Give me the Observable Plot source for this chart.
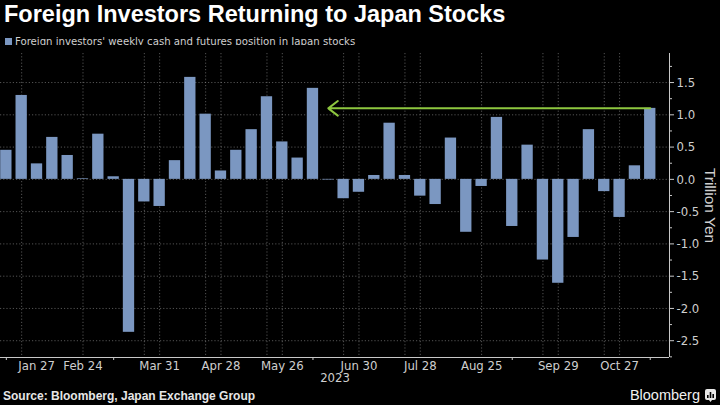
<!DOCTYPE html>
<html>
<head>
<meta charset="utf-8">
<script src="https://cdn.jsdelivr.net/npm/d3@7"></script>
<script src="https://cdn.jsdelivr.net/npm/@observablehq/plot@0.6"></script>
<style>
  html, body { margin: 0; padding: 0; background: #000; }
  body { width: 720px; height: 405px; overflow: hidden; position: relative;
         font-family: "Liberation Sans Narrow", "DejaVu Sans Condensed", "Liberation Sans", sans-serif; }
  #title { position: absolute; left: 4px; top: 0px; color: #fff; font-family: "Liberation Sans", sans-serif;
           font-weight: bold; font-size: 23.5px; line-height: 28px; white-space: nowrap; }
  #legend { position: absolute; left: 5px; top: 34px; color: #cfcfcf; font-size: 11.3px; line-height: 16px; white-space: nowrap; }
  #legend .sw { display: inline-block; width: 7px; height: 7px; background: #7b97c1; margin-right: 3px; vertical-align: 0px; }
  #chart { position: absolute; left: 0; top: 45px; }
  #source { position: absolute; left: 3px; top: 388px; color: #e6e6e6; font-family: "Liberation Sans", sans-serif;
            font-weight: bold; font-size: 12px; line-height: 16px; white-space: nowrap; }
  #brand { position: absolute; right: 4px; top: 386px; color: #f0f0f0; font-family: "Liberation Sans", sans-serif;
           font-size: 14.5px; line-height: 18px; white-space: nowrap; display: flex; align-items: center; gap: 5px; }
</style>
</head>
<body>
<div id="title">Foreign Investors Returning to Japan Stocks</div>
<div id="legend"><span class="sw"></span>Foreign investors' weekly cash and futures position in Japan stocks</div>
<div id="chart"></div>
<div id="source">Source: Bloomberg, Japan Exchange Group</div>
<div id="brand"><span>Bloomberg</span><svg width="11" height="13" viewBox="0 0 11 13"><rect x="0" y="0" width="11" height="11" rx="2" fill="#e8e8e8"/><path d="M4 11 L5.5 13 L7 11 Z" fill="#e8e8e8"/><rect x="2" y="6" width="1.6" height="3" fill="#000"/><rect x="4.7" y="3" width="1.6" height="6" fill="#000"/><rect x="7.4" y="5" width="1.6" height="4" fill="#000"/></svg></div>
<script>
// ---- data ----
const weeks = [
  "2023-01-20","2023-01-27","2023-02-03","2023-02-10","2023-02-17","2023-02-24","2023-03-03","2023-03-10",
  "2023-03-17","2023-03-24","2023-03-31","2023-04-07","2023-04-14","2023-04-21","2023-04-28","2023-05-05",
  "2023-05-12","2023-05-19","2023-05-26","2023-06-02","2023-06-09","2023-06-16","2023-06-23","2023-06-30",
  "2023-07-07","2023-07-14","2023-07-21","2023-07-28","2023-08-04","2023-08-11","2023-08-18","2023-08-25",
  "2023-09-01","2023-09-08","2023-09-15","2023-09-22","2023-09-29","2023-10-06","2023-10-13","2023-10-20",
  "2023-10-27","2023-11-03","2023-11-10"
];
const positions = [
  0.45, 1.30, 0.24, 0.65, 0.37, 0.01, 0.70, 0.04,
  -2.37, -0.35, -0.42, 0.29, 1.58, 1.01, 0.13, 0.45,
  0.77, 1.28, 0.58, 0.33, 1.41, -0.01, -0.30, -0.20,
  0.06, 0.87, 0.06, -0.26, -0.39, 0.64, -0.82, -0.11,
  0.96, -0.73, 0.53, -1.25, -1.61, -0.90, 0.77, -0.19,
  -0.59, 0.21, 1.10
];
const labelDates = ["2023-01-27","2023-02-24","2023-03-31","2023-04-28","2023-05-26","2023-06-30",
                    "2023-07-28","2023-08-25","2023-09-29","2023-10-27"];
const extraGridDates = ["2023-03-24","2023-04-21","2023-05-19","2023-06-23","2023-07-21","2023-09-22","2023-10-20"];
const smallTickDates = ["2023-01-20","2023-03-10","2023-06-09","2023-09-08","2023-11-10"];
const yTicks = [1.5, 1.0, 0.5, 0.0, -0.5, -1.0, -1.5, -2.0, -2.5];
const yMinorTicks = [1.75, 1.25, 0.75, 0.25, -0.25, -0.75, -1.25, -1.75, -2.25, -2.75];
const yearLabel = ["2023"];
const unitLabel = ["Trillion Yen"];
const arrowFrom = "2023-11-10";
const arrowTo = "2023-06-16";
const arrowLevel = 1.10;
const xDomain = ["2023-01-17T08:00:00Z", "2023-11-18T19:00:00Z"];
const yDomain = [-2.76, 1.95];

// ---- build ----
const P = d => new Date(d.length > 10 ? d : d + "T00:00:00Z");
const data = weeks.map((w, i) => ({date: P(w), value: positions[i]}));
const arrows = [{from: P(arrowFrom), to: P(arrowTo), y: arrowLevel}];
const halfBar = 62; // hours

const grid = {stroke: "#8a8a8a", strokeOpacity: 0.6, strokeDasharray: "1.2,2"};
const fmt = d3.utcFormat("%b %-d");

const chart = Plot.plot({
  width: 720,
  height: 350,
  marginTop: 8,
  marginBottom: 38,
  marginLeft: 0,
  marginRight: 51,
  style: {background: "#000", color: "#cfcfcf", fontFamily: "'Liberation Sans Narrow','DejaVu Sans Condensed','Liberation Sans',sans-serif", fontSize: "13px", overflow: "visible"},
  x: {type: "utc", domain: xDomain.map(P)},
  y: {domain: yDomain},
  marks: [
    Plot.gridY(yTicks, grid),
    Plot.gridX(labelDates.map(P), grid),
    Plot.gridX(extraGridDates.map(P), grid),
    Plot.rectY(data, {
      x1: d => d3.utcHour.offset(d.date, -halfBar),
      x2: d => d3.utcHour.offset(d.date, halfBar),
      y1: 0, y2: "value",
      fill: "#7b97c1"
    }),
    Plot.arrow(arrows, {x1: "from", x2: "to", y1: "y", y2: "y", stroke: "#8dc63f", strokeWidth: 2, headLength: 9, headAngle: 75}),
    Plot.ruleY([yDomain[0]], {stroke: "#c8c8c8", strokeWidth: 1}),
    Plot.ruleX([P(xDomain[1])], {stroke: "#c8c8c8", strokeWidth: 1}),
    Plot.axisY({anchor: "right", ticks: yTicks, tickSize: 4, tickPadding: 3, textAnchor: "start",
                tickFormat: d => d.toFixed(1), label: null, stroke: "#c8c8c8", fill: "#cfcfcf"}),
    Plot.axisY({anchor: "right", ticks: yMinorTicks, tickSize: 2, tickFormat: () => "", label: null, stroke: "#c8c8c8"}),
    Plot.axisX({ticks: smallTickDates.map(P), tickSize: 3, tickFormat: () => "", label: null, stroke: "#c8c8c8"}),
    Plot.axisX({ticks: labelDates.slice(1).map(P), tickSize: 0, tickPadding: 3, tickFormat: fmt, label: null, fill: "#cfcfcf"}),
    Plot.axisX({ticks: labelDates.slice(0, 1).map(P), tickSize: 0, tickPadding: 3, tickFormat: fmt, label: null, fill: "#cfcfcf", dx: 15}),
    Plot.text(yearLabel, {frameAnchor: "bottom", dy: 24, fill: "#cfcfcf", fontSize: 13}),
    Plot.text(unitLabel, {frameAnchor: "right", textAnchor: "middle", lineAnchor: "middle", dx: 40, rotate: 90,
                          fill: "#cfcfcf", fontSize: 15.5, fontFamily: "'Liberation Sans',sans-serif"})
  ]
});
document.getElementById("chart").appendChild(chart);
</script>
</body>
</html>
